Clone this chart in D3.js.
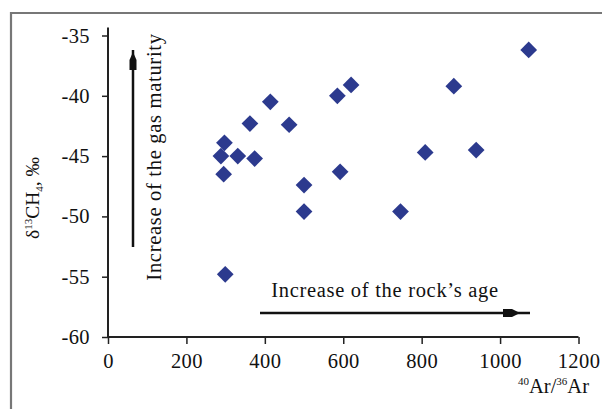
<!DOCTYPE html>
<html>
<head>
<meta charset="utf-8">
<script src="https://cdn.jsdelivr.net/npm/d3@7"></script>
<style>
  body { margin: 0; background: #fff; }
  svg { display: block; }
  text { font-family: "Liberation Serif", "Times New Roman", "DejaVu Serif", serif; fill: #111; }
</style>
</head>
<body>
<div id="chart"></div>
<script>
// 40Ar/36Ar vs d13C of methane
const arRatio = [1073, 882, 620, 585, 414, 362, 462, 297, 288, 331, 374, 295, 500, 592, 809, 939, 500, 746, 299];
const d13C    = [-36.2, -39.2, -39.1, -40.0, -40.5, -42.3, -42.4, -43.9, -45.0, -45.0, -45.2, -46.5, -47.4, -46.3, -44.7, -44.5, -49.6, -49.6, -54.8];
const xTicks = [0, 200, 400, 600, 800, 1000, 1200];
const yTicks = [-35, -40, -45, -50, -55, -60];

const W = 602, H = 409;
const svg = d3.select('#chart')
  .append('svg')
  .attr('width', W)
  .attr('height', H);

// frame (only top and left show in the picture)
svg.append('path')
  .attr('d', 'M11,' + H + 'V13H' + W)
  .attr('fill', 'none')
  .attr('stroke', '#777')
  .attr('stroke-width', 2.2);

const x = d3.scaleLinear().domain([0, 1200]).range([108, 578.5]);
const y = d3.scaleLinear().domain([-60, -35]).range([337, 35.5]);

// axes
const xAxis = svg.append('g')
  .attr('transform', 'translate(0,' + y(-60) + ')')
  .call(d3.axisBottom(x).tickValues(xTicks).tickSize(7).tickFormat(d3.format('d')));

const yAxis = svg.append('g')
  .attr('transform', 'translate(' + x(0) + ',0)')
  .call(d3.axisLeft(y).tickValues(yTicks).tickSize(6).tickPadding(12).tickFormat(d => '-' + Math.abs(d)));

[xAxis, yAxis].forEach(g => {
  g.attr('font-family', null).attr('font-size', null);
  g.selectAll('.domain').attr('stroke', '#222').attr('stroke-width', 2);
  g.selectAll('.tick line').attr('stroke', '#222').attr('stroke-width', 1.5);
  g.selectAll('.tick text')
    .attr('font-size', 20.5)
    .attr('letter-spacing', 0.4)
    .attr('fill', '#111');
});
// y axis line reaches a bit above -35
yAxis.select('.domain').attr('d', 'M0,' + y(-60) + 'V' + (y(-35) - 8));
xAxis.select('.domain').attr('d', 'M' + x(0) + ',0H' + x(1200));
xAxis.selectAll('.tick text').attr('y', 31).attr('dy', 0);

// points
svg.append('g')
  .selectAll('path')
  .data(arRatio)
  .enter()
  .append('path')
  .attr('d', d3.symbol().type(d3.symbolSquare).size(140))
  .attr('transform', (d, i) => 'translate(' + x(d) + ',' + y(d13C[i]) + ') rotate(45)')
  .attr('fill', '#2c3a8e');

// axis titles
const yTitle = svg.append('text')
  .attr('transform', 'translate(39,198) rotate(-90)')
  .attr('text-anchor', 'middle')
  .attr('font-size', 19.5);
yTitle.append('tspan').text('δ');
yTitle.append('tspan').attr('font-size', 11).attr('dy', -7).text('13');
yTitle.append('tspan').attr('dy', 7).text('CH');
yTitle.append('tspan').attr('font-size', 11).attr('dy', 4).text('4');
yTitle.append('tspan').attr('dy', -4).text(', ‰');

const xTitle = svg.append('text')
  .attr('x', 589)
  .attr('y', 393)
  .attr('text-anchor', 'end')
  .attr('font-size', 20.5);
xTitle.append('tspan').attr('font-size', 11).attr('dy', -8).text('40');
xTitle.append('tspan').attr('dy', 8).text('Ar/');
xTitle.append('tspan').attr('font-size', 11).attr('dy', -8).text('36');
xTitle.append('tspan').attr('dy', 8).text('Ar');

// annotation arrows
svg.append('line')
  .attr('x1', 133).attr('y1', 247)
  .attr('x2', 133).attr('y2', 50)
  .attr('stroke', '#111').attr('stroke-width', 2.5);
svg.append('path')
  .attr('d', 'M133,52 L136.5,60 L136.5,70 L129.5,70 L129.5,60 Z')
  .attr('fill', '#111');

svg.append('text')
  .attr('transform', 'translate(161,157) rotate(-90)')
  .attr('text-anchor', 'middle')
  .attr('font-size', 20.5)
  .attr('letter-spacing', 0.7)
  .text('Increase of the gas maturity');

svg.append('line')
  .attr('x1', 260).attr('y1', 313)
  .attr('x2', 530).attr('y2', 313)
  .attr('stroke', '#111').attr('stroke-width', 2.5);
svg.append('path')
  .attr('d', 'M520,313 L512,309 L503,309 L503,317 L512,317 Z')
  .attr('fill', '#111');

svg.append('text')
  .attr('x', 385)
  .attr('y', 297)
  .attr('text-anchor', 'middle')
  .attr('font-size', 20.5)
  .attr('letter-spacing', 0.7)
  .text('Increase of the rock’s age');
</script>
</body>
</html>
